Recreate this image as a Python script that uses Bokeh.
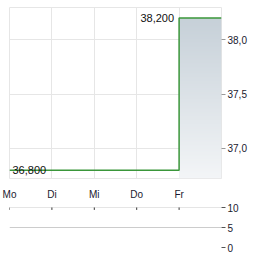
import numpy as np
from bokeh.plotting import figure
from bokeh.layouts import column
from bokeh.models import FixedTicker, Range1d
from bokeh.core.properties import value
from bokeh.embed import file_html
from bokeh.resources import INLINE

# ---- data ----
days = ["Mo", "Di", "Mi", "Do", "Fr"]
day_pos = [0, 1, 2, 3, 4]
price_t = [0, 4, 5]
price = [36.8, 38.2, 38.2]
price_ticks = [37.0, 37.5, 38.0]
price_tick_labels = ["37,0", "37,5", "38,0"]
vol_ticks = [0, 5, 10]
vol_tick_labels = ["0", "5", "10"]

FONT = "Liberation Sans"
TXT = "#1a1a2e"

y_lo, y_hi = 36.724, 38.297

p = figure(width=264, height=202, output_backend="svg", toolbar_location=None,
           x_range=Range1d(0, 5), y_range=Range1d(y_lo, y_hi),
           min_border_left=9, min_border_right=43, min_border_top=7, min_border_bottom=16,
           y_axis_location="right")
p.background_fill_color = "white"
p.border_fill_color = "white"
p.outline_line_color = "#e6e6e6"

# gradient fill under the last segment (smooth image)
N = 200
top = np.array([198, 208, 216], dtype=float)
bot = np.array([243, 245, 247], dtype=float)
img = np.empty((N, 1), dtype=np.uint32)
view = img.view(dtype=np.uint8).reshape((N, 1, 4))
for i in range(N):
    f = i / (N - 1)
    c = bot + (top - bot) * f
    view[i, 0, 0] = int(round(c[0]))
    view[i, 0, 1] = int(round(c[1]))
    view[i, 0, 2] = int(round(c[2]))
    view[i, 0, 3] = 255
p.image_rgba(image=[img], x=price_t[1], y=y_lo, dw=price_t[2] - price_t[1],
             dh=price[1] - y_lo)

p.step(x=price_t, y=price, mode="after", line_color="#3a963a", line_width=1.5)

labels = [("%.3f" % v).replace(".", ",") for v in price]
p.text(x=[price_t[1]], y=[price[1]], text=[labels[1]], text_align="right",
       text_baseline="middle", x_offset=-5, text_font=value(FONT),
       text_font_size="11px", text_color="#111111")
p.text(x=[price_t[0]], y=[price[0]], text=[labels[0]], text_align="left",
       text_baseline="middle", x_offset=3, text_font=value(FONT),
       text_font_size="11px", text_color="#111111")

p.xaxis.ticker = FixedTicker(ticks=day_pos)
p.xaxis.major_label_overrides = {d: n for d, n in zip(day_pos, days)}
p.xaxis.axis_line_color = None
p.xaxis.major_tick_line_color = None
p.xaxis.minor_tick_line_color = None
p.xaxis.major_label_standoff = 4
p.xaxis.major_label_text_font = FONT
p.xaxis.major_label_text_font_size = "10px"
p.xaxis.major_label_text_color = TXT

p.yaxis.ticker = FixedTicker(ticks=price_ticks)
p.yaxis.major_label_overrides = {t: l for t, l in zip(price_ticks, price_tick_labels)}
p.yaxis.axis_line_color = None
p.yaxis.major_tick_line_color = "#999999"
p.yaxis.major_tick_out = 4
p.yaxis.major_tick_in = 0
p.yaxis.minor_tick_line_color = None
p.yaxis.major_label_standoff = 2
p.yaxis.major_label_text_font = FONT
p.yaxis.major_label_text_font_size = "10px"
p.yaxis.major_label_text_color = TXT

p.xgrid.ticker = FixedTicker(ticks=day_pos)
p.ygrid.ticker = FixedTicker(ticks=price_ticks)
p.xgrid.grid_line_color = "#e6e6e6"
p.ygrid.grid_line_color = "#e6e6e6"

# ---- volume panel ----
v = figure(width=264, height=53, output_backend="svg", toolbar_location=None,
           x_range=Range1d(0, 5), y_range=Range1d(0, 10.1),
           min_border_left=9, min_border_right=43, min_border_top=5, min_border_bottom=8,
           y_axis_location="right", x_axis_location=None)
v.outline_line_color = None
v.background_fill_color = "white"
v.border_fill_color = "white"
v.xgrid.grid_line_color = None
v.ygrid.ticker = FixedTicker(ticks=vol_ticks)
v.ygrid.grid_line_color = "#cccccc"
# small day ticks on the top line
v.scatter(x=day_pos, y=[vol_ticks[-1]] * len(day_pos), marker="dash", angle=np.pi / 2,
          size=4, line_color="#333333", line_width=1)
v.yaxis.ticker = FixedTicker(ticks=vol_ticks)
v.yaxis.major_label_overrides = {t: l for t, l in zip(vol_ticks, vol_tick_labels)}
v.yaxis.axis_line_color = None
v.yaxis.major_tick_line_color = "#555555"
v.yaxis.major_tick_out = 4
v.yaxis.major_tick_in = 0
v.yaxis.minor_tick_line_color = None
v.yaxis.major_label_standoff = 2
v.yaxis.major_label_text_font = FONT
v.yaxis.major_label_text_font_size = "10px"
v.yaxis.major_label_text_color = TXT

layout = column(p, v, spacing=0)
open("out.html", "w").write(file_html(layout, INLINE))
